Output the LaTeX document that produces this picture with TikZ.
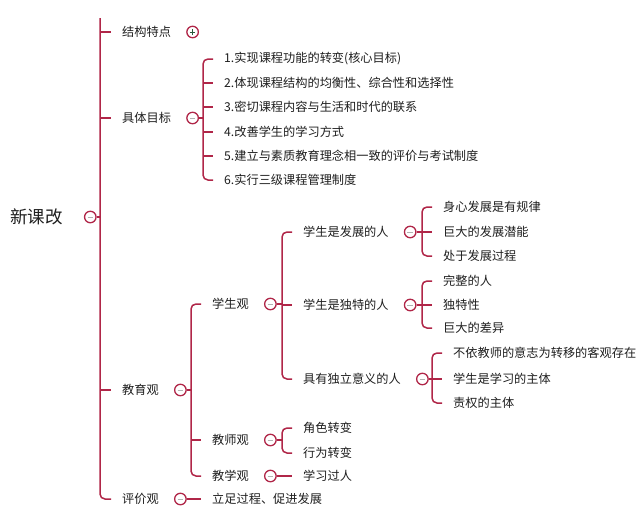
\documentclass[tikz,border=0pt]{standalone}
\usepackage{fontspec}
\newfontfamily\cjk{Noto Sans CJK SC}
\usetikzlibrary{positioning}
\definecolor{forkred}{RGB}{176,38,72}
\definecolor{inkgray}{RGB}{30,30,30}
\definecolor{plusgreen}{RGB}{40,90,60}

\begin{document}
\begin{tikzpicture}[x=1pt, y=-1pt,
  item/.style={anchor=west, inner sep=0pt, text=inkgray, font=\cjk\fontsize{12.2}{14}\selectfont},
  fork/.style={draw=forkred, line width=1.5pt},
  fold/.style={circle, draw=forkred, line width=1.3pt, fill=white, minimum size=11.5pt, inner sep=0pt},
  foldminus/.style={fold, path picture={\draw[gray!60, line width=0.9pt]
      ([xshift=-2.8pt]path picture bounding box.center) -- ([xshift=2.8pt]path picture bounding box.center);}},
  foldplus/.style={fold, path picture={\draw[plusgreen, line width=0.9pt]
      ([xshift=-2.8pt]path picture bounding box.center) -- ([xshift=2.8pt]path picture bounding box.center)
      ([yshift=-2.8pt]path picture bounding box.center) -- ([yshift=2.8pt]path picture bounding box.center);}}]

\useasboundingbox (0,0) rectangle (640,512);

% скобка: от кружка к вертикали и к первому и последнему потомку
\newcommand{\drawfork}[3]{%
  \coordinate (fx) at ([xshift=-21pt]#2.west);
  \draw[fork, rounded corners=5pt] ([xshift=-11pt]#2.west) -- (fx) -- (fx |- #3.west) -- ([xshift=-11pt]#3.west);
  \draw[fork] (#1.east) -- (fx |- #1.east);
}

% ---------- корень и ствол
\node[item, font=\cjk\fontsize{17.5}{20}\selectfont] (root) at (10,217) {新课改};
\node[foldminus, right=21pt of root] (rootc) {};

\node[item] (jg) at (122,32) {结构特点};
\node[item] (mb) at (122,118) {具体目标};
\node[item] (jy) at (122,390) {教育观};
\node[item] (pj) at (122,499) {评价观};
\node[foldplus, right=15pt of jg] (jgc) {};
\foreach \k in {mb,jy,pj}
  \node[foldminus, right=15pt of \k] (\k c) {};

\coordinate (trunktop) at (100,18);
\draw[fork, rounded corners=5pt] (trunktop) |- ([xshift=-11pt]pj.west);
\foreach \k in {jg,mb,jy}
  \draw[fork] (trunktop |- \k.west) -- ([xshift=-11pt]\k.west);
\draw[fork] (rootc.east) -- (trunktop |- rootc.east);

% ---------- (a) конкретные цели
\foreach \i/\y/\t in {1/59/{1.实现课程功能的转变(核心目标)},
    2/83/{2.体现课程结构的均衡性、综合性和选择性},
    3/107/{3.密切课程内容与生活和时代的联系},
    4/132/{4.改善学生的学习方式},
    5/156/{5.建立与素质教育理念相一致的评价与考试制度},
    6/180/{6.实行三级课程管理制度}}
  \node[item] (mb\i) at (224,\y) {\t};
\drawfork{mbc}{mb1}{mb6}
\foreach \k in {mb2,mb3,mb4,mb5}
  \draw[fork] (fx |- \k.west) -- ([xshift=-11pt]\k.west);

% ---------- (b) взгляды на образование
\node[item] (xs) at (212,304) {学生观};
\node[item] (js) at (212,440) {教师观};
\node[item] (jx) at (212,476) {教学观};
\foreach \k in {xs,js,jx}
  \node[foldminus, right=15pt of \k] (\k c) {};
\drawfork{jyc}{xs}{jx}
\draw[fork] (fx |- js.west) -- ([xshift=-11pt]js.west);

% студент
\node[item] (fz) at (303,232) {学生是发展的人};
\node[item] (dt) at (303,305) {学生是独特的人};
\node[item] (dl) at (303,379) {具有独立意义的人};
\foreach \k in {fz,dt,dl}
  \node[foldminus, right=15pt of \k] (\k c) {};
\drawfork{xsc}{fz}{dl}
\draw[fork] (fx |- dt.west) -- ([xshift=-11pt]dt.west);

\node[item] (fz1) at (443,207) {身心发展是有规律};
\node[item] (fz2) at (443,232) {巨大的发展潜能};
\node[item] (fz3) at (443,256) {处于发展过程};
\drawfork{fzc}{fz1}{fz3}
\draw[fork] (fx |- fz2.west) -- ([xshift=-11pt]fz2.west);

\node[item] (dt1) at (443,281) {完整的人};
\node[item] (dt2) at (443,305) {独特性};
\node[item] (dt3) at (443,328) {巨大的差异};
\drawfork{dtc}{dt1}{dt3}
\draw[fork] (fx |- dt2.west) -- ([xshift=-11pt]dt2.west);

\node[item] (dl1) at (453,353) {不依教师的意志为转移的客观存在};
\node[item] (dl2) at (453,379) {学生是学习的主体};
\node[item] (dl3) at (453,403) {责权的主体};
\drawfork{dlc}{dl1}{dl3}
\draw[fork] (fx |- dl2.west) -- ([xshift=-11pt]dl2.west);

% учитель и обучение
\node[item] (js1) at (303,428) {角色转变};
\node[item] (js2) at (303,453) {行为转变};
\drawfork{jsc}{js1}{js2}
\node[item] (jx1) at (303,476) {学习过人};
\draw[fork] (jxc.east) -- ([xshift=-11pt]jx1.west);

% ---------- (c) оценка
\node[item] (pj1) at (212,499) {立足过程、促进发展};
\draw[fork] (pjc.east) -- ([xshift=-11pt]pj1.west);
\end{tikzpicture}
\end{document}
